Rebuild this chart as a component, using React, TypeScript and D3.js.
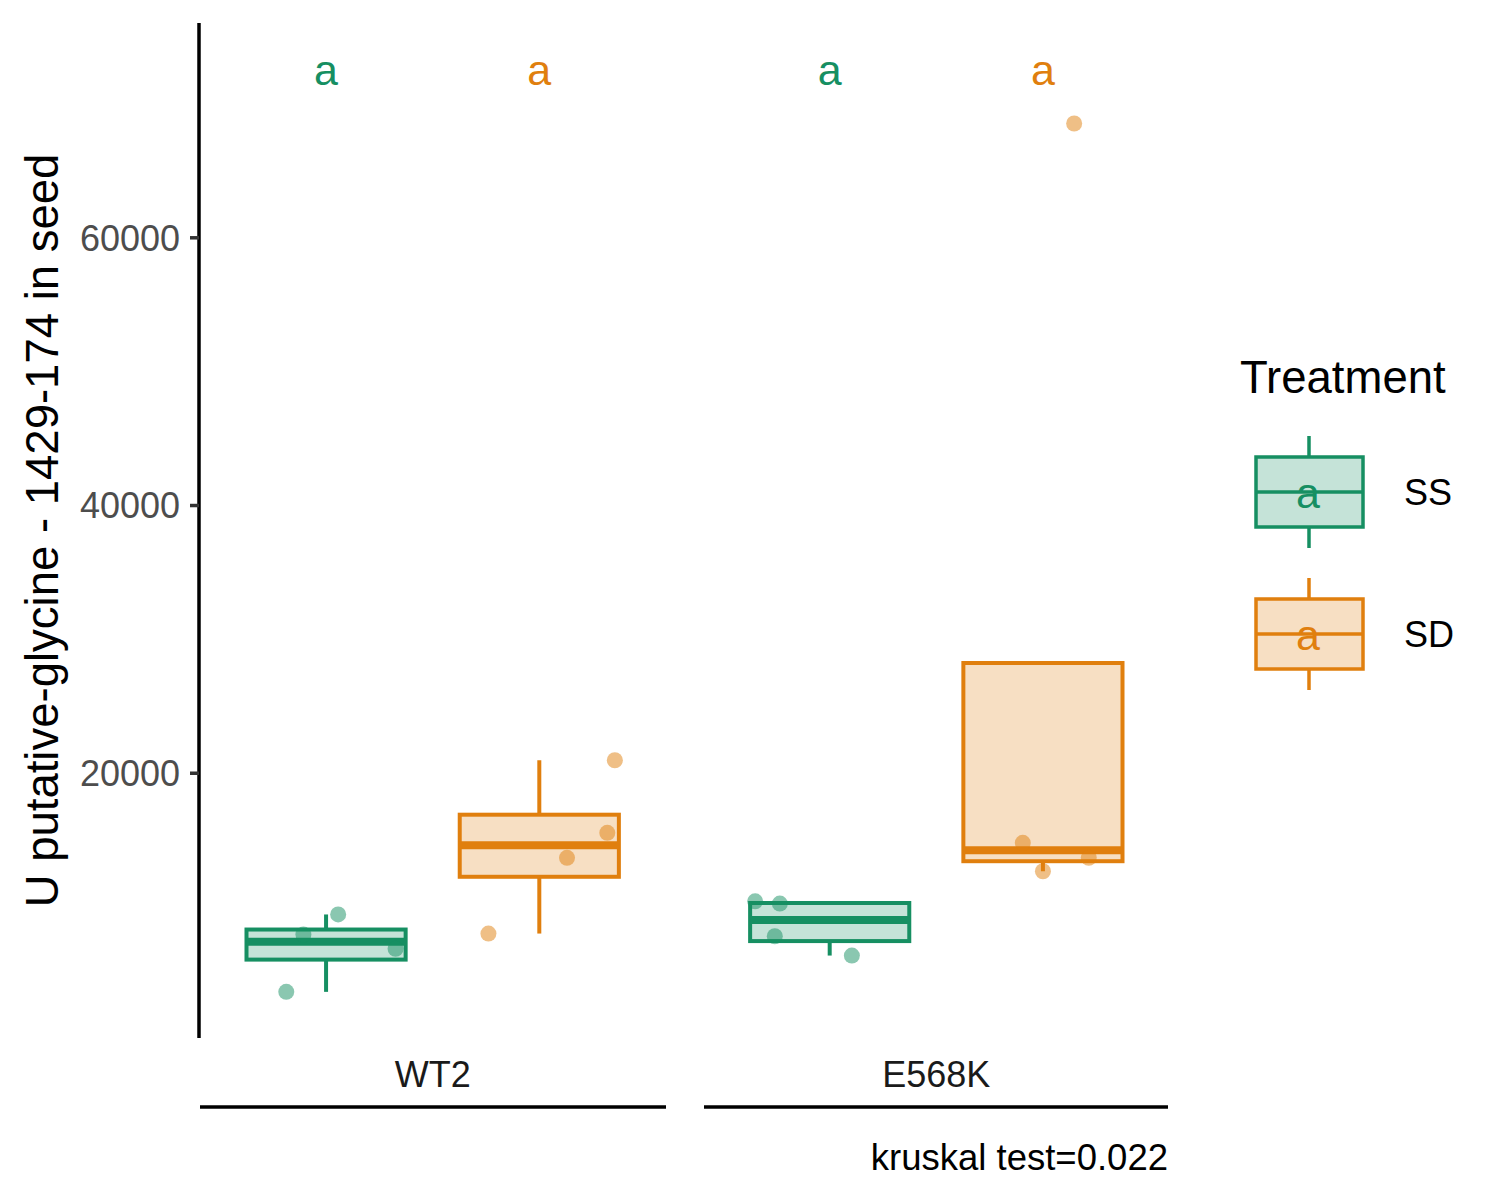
import * as d3 from 'd3';

// data
const categories = ['WT2', 'E568K'];
const treatments = ['SS', 'SD'];

const wt2SS = [9450, 7949, 6881, 3668];
const wt2SD = [20971, 15547, 13679, 8024];
const e568kSS = [10434, 10265, 7822, 6380];
const e568kSD = [14800, 13679, 12678, 68540];

// horizontal jitter of each point, in category steps
const wt2SSJitter = [0.024, -0.045, 0.138, -0.079];
const wt2SDJitter = [0.15, 0.135, 0.055, -0.101];
const e568kSSJitter = [-0.148, -0.099, -0.109, 0.044];
const e568kSDJitter = [-0.04, 0.091, 0.0, 0.062];

const letters = ['a', 'a', 'a', 'a'];
const letterY = 72600;
const yTicks = [20000, 40000, 60000];
const pValueLabel = 'kruskal test=0.022';
const yTitle = 'U putative-glycine - 1429-174 in seed';

const colors: Record<string, string> = { SS: '#168F62', SD: '#E07F0E' };
const font = '"Liberation Sans", Arial, Helvetica, sans-serif';

const groups = [
  { cat: 'WT2', trt: 'SS', values: wt2SS, jitter: wt2SSJitter },
  { cat: 'WT2', trt: 'SD', values: wt2SD, jitter: wt2SDJitter },
  { cat: 'E568K', trt: 'SS', values: e568kSS, jitter: e568kSSJitter },
  { cat: 'E568K', trt: 'SD', values: e568kSD, jitter: e568kSDJitter },
];

function boxStats(values: number[]) {
  const s = [...values].sort(d3.ascending);
  const q1 = d3.quantile(s, 0.25)!;
  const med = d3.quantile(s, 0.5)!;
  const q3 = d3.quantile(s, 0.75)!;
  const iqr = q3 - q1;
  const inside = s.filter((v) => v >= q1 - 1.5 * iqr && v <= q3 + 1.5 * iqr);
  const lo = Math.min(q1, ...inside);
  const hi = Math.max(q3, ...inside);
  return { q1, med, q3, lo, hi };
}

const panel = { left: 199, right: 1170, top: 23, bottom: 1038 };

export default function App() {
  const all = groups.flatMap((g) => g.values).concat([letterY]);
  const mn = d3.min(all)!;
  const mx = d3.max(all)!;
  const pad = (mx - mn) * 0.05;

  const x = d3.scalePoint<string>().domain(categories).range([panel.left, panel.right]).padding(0.464);
  const step = x.step();
  const dodge = d3.scalePoint<string>().domain(treatments).range([-0.2117, 0.2117]);
  const boxW = 0.316 * step;

  const y = d3.scaleLinear().domain([mn - pad, mx + pad]).range([panel.bottom, panel.top]);

  const cx = (g: { cat: string; trt: string }) => x(g.cat)! + dodge(g.trt)! * step;

  return (
    <svg width={1500} height={1200} style={{ position: 'absolute', left: 0, top: 0, background: '#fff' }}
      fontFamily={font}>
      {/* boxes */}
      {groups.map((g, i) => {
        const st = boxStats(g.values);
        const c = cx(g);
        const col = colors[g.trt];
        return (
          <g key={'b' + i} stroke={col}>
            <line x1={c} x2={c} y1={y(st.hi)} y2={y(st.q3)} strokeWidth={4} />
            <line x1={c} x2={c} y1={y(st.q1)} y2={y(st.lo)} strokeWidth={4} />
            <rect x={c - boxW / 2} width={boxW} y={y(st.q3)} height={y(st.q1) - y(st.q3)}
              fill={col} fillOpacity={0.25} strokeWidth={4} />
            <line x1={c - boxW / 2} x2={c + boxW / 2} y1={y(st.med)} y2={y(st.med)} strokeWidth={8} />
          </g>
        );
      })}
      {/* jittered points */}
      {groups.map((g, i) =>
        g.values.map((v, j) => (
          <circle key={'p' + i + '-' + j} cx={cx(g) + g.jitter[j] * step} cy={y(v)} r={8}
            fill={colors[g.trt]} fillOpacity={0.5} />
        ))
      )}
      {/* letters */}
      {groups.map((g, i) => (
        <text key={'l' + i} x={cx(g)} y={y(letterY) + 16} textAnchor="middle" fontSize={43}
          fill={colors[g.trt]}>{letters[i]}</text>
      ))}

      {/* y axis */}
      <line x1={panel.left} x2={panel.left} y1={panel.top} y2={panel.bottom} stroke="#000" strokeWidth={3.5} />
      {yTicks.map((t) => (
        <g key={t}>
          <line x1={panel.left - 9} x2={panel.left} y1={y(t)} y2={y(t)} stroke="#333" strokeWidth={3.5} />
          <text x={panel.left - 19} y={y(t)} dy="0.36em" textAnchor="end" fontSize={36} fill="#4D4D4D">{t}</text>
        </g>
      ))}
      <text transform={`translate(58,${(panel.top + panel.bottom) / 2}) rotate(-90)`} textAnchor="middle"
        fontSize={45.5} fill="#000">{yTitle}</text>

      {/* x categories with brackets */}
      {categories.map((c, i) => (
        <g key={c}>
          <text x={x(c)!} y={1087} textAnchor="middle" fontSize={36} fill="#1a1a1a">{c}</text>
          <line x1={i === 0 ? 200 : 704} x2={i === 0 ? 666 : 1168} y1={1107} y2={1107} stroke="#000" strokeWidth={3.5} />
        </g>
      ))}
      <text x={1168} y={1170} textAnchor="end" fontSize={36.5} fill="#000">{pValueLabel}</text>

      {/* legend */}
      <text x={1240} y={393} fontSize={45.5} fill="#000">Treatment</text>
      {treatments.map((t, i) => {
        const cy = 492 + i * 142;
        const col = colors[t];
        return (
          <g key={t}>
            <g stroke={col} strokeWidth={3.5}>
              <line x1={1309} x2={1309} y1={cy - 56} y2={cy - 35} />
              <line x1={1309} x2={1309} y1={cy + 35} y2={cy + 56} />
              <rect x={1256} y={cy - 35} width={107} height={70} fill={col} fillOpacity={0.25} />
              <line x1={1256} x2={1363} y1={cy} y2={cy} />
            </g>
            <text x={1308} y={cy + 16} textAnchor="middle" fontSize={43} fill={col}>a</text>
            <text x={1404} y={cy + 13} fontSize={36} fill="#000">{t}</text>
          </g>
        );
      })}
    </svg>
  );
}
